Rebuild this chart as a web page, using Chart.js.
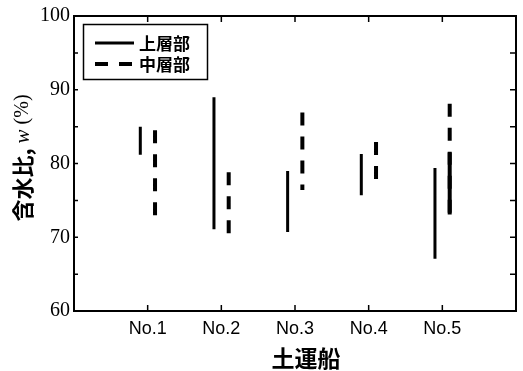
<!DOCTYPE html>
<html>
<head>
<meta charset="utf-8">
<script src="https://cdn.jsdelivr.net/npm/chart.js@4"></script>
<style>
    html, body { margin: 0; padding: 0; background: #fff; }
    #wrap { width: 523px; height: 371px; }
</style>
</head>
<body>
<div id="wrap"><canvas id="chart-water"></canvas></div>
<script>
// Water content ranges per barge, upper and middle layers
var categories = ['No.1', 'No.2', 'No.3', 'No.4', 'No.5'];
var upperLow = [81.2, 71.1, 70.7, 75.7, 67.1];
var upperHigh = [85.0, 89.0, 79.0, 81.3, 79.4];
var middleLow = [72.1, 70.3, 76.4, 77.9, 73.1];
var middleHigh = [84.5, 78.8, 86.9, 82.9, 88.1];
// No.5 middle layer: lower part printed as a solid stroke
var middleSolidLow = [null, null, null, null, 73.1];
var middleSolidHigh = [null, null, null, null, 81.5];
var yTicks = [60, 70, 80, 90, 100];
var seriesNames = ['上層部', '中層部'];

var DASH = [13, 11];
var JP = '"Noto Sans CJK JP", sans-serif';

// vertical segments, top to bottom, broken by null points
function rangeSegments(low, high, shift) {
    var pts = [];
    for (var i = 0; i < categories.length; i++) {
        if (low[i] == null) continue;
        pts.push({ x: i + 1 + shift, y: high[i] });
        pts.push({ x: i + 1 + shift, y: low[i] });
        pts.push({ x: i + 1 + shift, y: null });
    }
    return pts;
}

// Frame, inward ticks, legend box and axis titles
var framePlugin = {
    id: 'frame',
    afterDraw: function (chart) {
        var ctx = chart.ctx;
        var a = chart.chartArea;
        var xs = chart.scales.x;
        var ys = chart.scales.y;
        ctx.save();
        ctx.strokeStyle = '#000';
        ctx.fillStyle = '#000';
        ctx.lineWidth = 2;
        ctx.strokeRect(a.left, a.top, a.right - a.left, a.bottom - a.top);

        ctx.lineWidth = 1.5;
        ctx.beginPath();
        categories.forEach(function (c, i) {
            var px = xs.getPixelForValue(i + 1);
            ctx.moveTo(px, a.bottom);
            ctx.lineTo(px, a.bottom - 6);
            ctx.moveTo(px, a.top);
            ctx.lineTo(px, a.top + 6);
        });
        for (var v = ys.min + 5; v < ys.max; v += 5) {
            var py = ys.getPixelForValue(v);
            ctx.moveTo(a.left, py);
            ctx.lineTo(a.left + 4, py);
            ctx.moveTo(a.right, py);
            ctx.lineTo(a.right - 6, py);
        }
        ctx.stroke();

        // legend
        ctx.lineWidth = 1.5;
        ctx.strokeRect(83.5, 24.5, 124, 55);
        var sets = chart.data.datasets;
        [0, 1].forEach(function (k) {
            var ly = k === 0 ? 43 : 64;
            ctx.beginPath();
            ctx.lineWidth = sets[k].borderWidth;
            ctx.setLineDash(sets[k].borderDash || []);
            ctx.moveTo(95, ly);
            ctx.lineTo(134, ly);
            ctx.stroke();
            ctx.setLineDash([]);
            ctx.font = 'bold 17px ' + JP;
            ctx.textAlign = 'left';
            ctx.textBaseline = 'middle';
            ctx.fillText(sets[k].label, 139, ly + 1);
        });

        // x title
        ctx.font = 'bold 23px ' + JP;
        ctx.textAlign = 'center';
        ctx.textBaseline = 'middle';
        ctx.fillText('土運船', 306, 358);

        // y title, mixed fonts
        var parts = [
            { t: '含水比, ', f: 'bold 22px ' + JP },
            { t: 'w', f: 'italic 21px "Liberation Serif"' },
            { t: ' (%)', f: '20px "Liberation Serif"' }
        ];
        var total = 0;
        parts.forEach(function (p) {
            ctx.font = p.f;
            p.w = ctx.measureText(p.t).width;
            total += p.w;
        });
        ctx.translate(23, 158);
        ctx.rotate(-Math.PI / 2);
        ctx.textAlign = 'left';
        var x0 = -total / 2;
        parts.forEach(function (p) {
            ctx.font = p.f;
            ctx.fillText(p.t, x0, 0);
            x0 += p.w;
        });
        ctx.restore();
    }
};

new Chart(document.getElementById('chart-water').getContext('2d'), {
    type: 'line',
    data: {
        datasets: [{
            label: seriesNames[0],
            data: rangeSegments(upperLow, upperHigh, -0.1),
            borderColor: '#000',
            borderWidth: 3
        }, {
            label: seriesNames[1],
            data: rangeSegments(middleLow, middleHigh, 0.1),
            borderColor: '#000',
            borderWidth: 4,
            borderDash: DASH
        }, {
            label: '',
            data: rangeSegments(middleSolidLow, middleSolidHigh, 0.1),
            borderColor: '#000',
            borderWidth: 4
        }]
    },
    options: {
        responsive: true,
        maintainAspectRatio: false,
        animation: false,
        spanGaps: false,
        elements: {
            point: { radius: 0, hoverRadius: 0 },
            line: { borderCapStyle: 'butt', tension: 0 }
        },
        layout: { padding: { top: 15, right: 7, left: 0, bottom: 0 } },
        plugins: {
            legend: { display: false },
            tooltip: { enabled: false }
        },
        scales: {
            x: {
                type: 'linear',
                min: 0,
                max: 6,
                grid: { display: false, drawTicks: false },
                border: { display: false },
                ticks: {
                    stepSize: 1,
                    autoSkip: false,
                    maxRotation: 0,
                    padding: 7,
                    color: '#000',
                    font: { family: 'Liberation Sans', size: 18 },
                    callback: function (v) { return categories[v - 1] || ''; }
                },
                afterFit: function (s) { s.height = 60; }
            },
            y: {
                min: 60,
                max: 100,
                grid: { display: false, drawTicks: false },
                border: { display: false },
                ticks: {
                    padding: 4,
                    color: '#000',
                    font: { family: 'Liberation Serif', size: 20 }
                },
                afterBuildTicks: function (s) {
                    s.ticks = yTicks.map(function (v) { return { value: v }; });
                },
                afterFit: function (s) { s.width = 74; }
            }
        }
    },
    plugins: [framePlugin]
});
</script>
</body>
</html>
